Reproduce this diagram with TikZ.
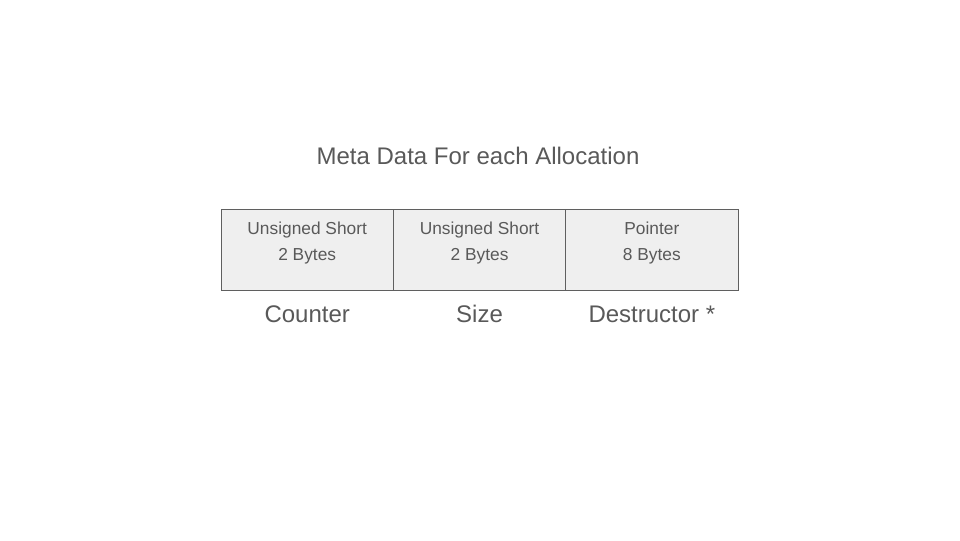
\documentclass[tikz,border=0pt]{standalone}
\usepackage{fontspec}
\setmainfont{Liberation Sans}
\usetikzlibrary{positioning}
\definecolor{textgray}{HTML}{595959}
\definecolor{cellfill}{HTML}{EFEFEF}
\definecolor{cellline}{HTML}{5F5F5F}
\tikzset{
  cell/.style={draw=cellline, fill=cellfill, line width=0.75pt,
    minimum width=129.25pt, minimum height=60.75pt, inner sep=0pt, outer sep=0pt},
  celltext/.style={text=textgray, font=\fontsize{13}{19.5}\selectfont,
    align=center, inner sep=0pt},
  fieldname/.style={text=textgray, font=\fontsize{18}{22}\selectfont, inner sep=0pt},
}
\begin{document}
\begin{tikzpicture}[x=0.75pt, y=-0.75pt]
    \useasboundingbox (0, 0) rectangle (960, 540);
    \node[fieldname] (title) at (478, 156) {Meta Data For each Allocation};

    \node[cell] (counter) at (307.2, 249.5) {};
    \node[cell, right=0pt of counter] (size) {};
    \node[cell, right=0pt of size] (dtor) {};

    \node[celltext] (countertype) at ([yshift=-25.75pt]counter.north) {Unsigned Short\\2 Bytes};
    \node[celltext] (sizetype) at ([yshift=-25.75pt]size.north) {Unsigned Short\\2 Bytes};
    \node[celltext] (dtortype) at ([yshift=-25.75pt]dtor.north) {Pointer\\8 Bytes};

    \node[fieldname] (countername) at ([yshift=-18pt]counter.south) {Counter};
    \node[fieldname] (sizename) at ([yshift=-18pt]size.south) {Size};
    \node[fieldname] (dtorname) at ([yshift=-18pt]dtor.south) {Destructor *};
\end{tikzpicture}
\end{document}
